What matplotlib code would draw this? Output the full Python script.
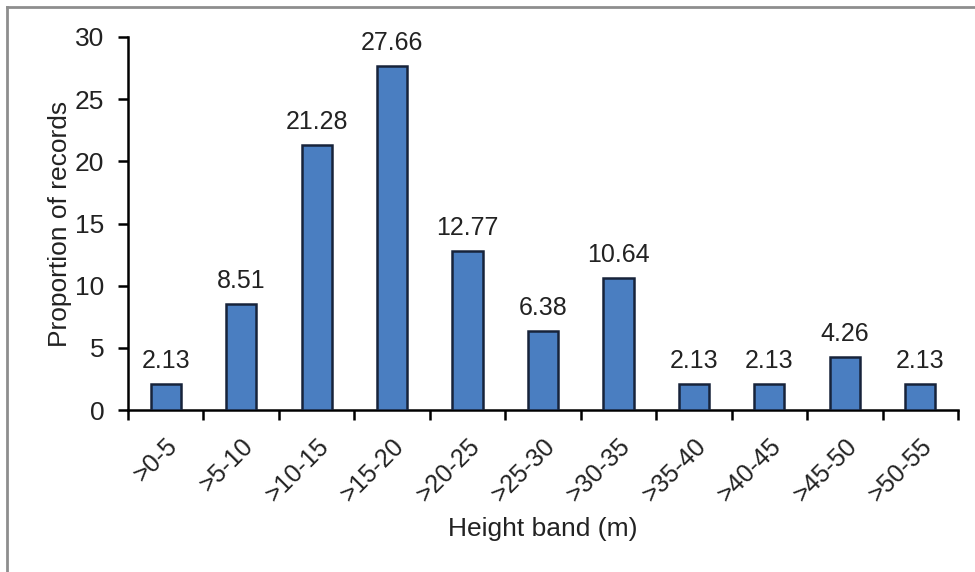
import matplotlib.pyplot as plt
from matplotlib.lines import Line2D

plt.rcParams['font.family'] = ['Liberation Sans', 'DejaVu Sans']

bands = ['>0-5', '>5-10', '>10-15', '>15-20', '>20-25', '>25-30',
         '>30-35', '>35-40', '>40-45', '>45-50', '>50-55']
proportion = [2.13, 8.51, 21.28, 27.66, 12.77, 6.38, 10.64, 2.13, 2.13, 4.26, 2.13]

fig = plt.figure(figsize=(9.75, 5.72), dpi=100)
ax = fig.add_axes([128 / 975, 1 - 410 / 572, 830 / 975, 373 / 572])

x = list(range(len(bands)))
ax.bar(x, proportion, width=0.4, color='#4A7EC1', edgecolor='#17233A', linewidth=1.8, zorder=3)

for xi, v in zip(x, proportion):
    ax.annotate('%.2f' % v, (xi, v), xytext=(0, 11.5), textcoords='offset points',
                ha='center', va='baseline', fontsize=18, color='#222222')

ax.set_xlim(-0.5, len(bands) - 0.5)
ax.set_ylim(0, 30)
ax.set_yticks([0, 5, 10, 15, 20, 25, 30])

# ticks sit between the categories
ax.set_xticks([i - 0.5 for i in range(len(bands) + 1)])
ax.set_xticklabels([])
ax.set_xticks(x, minor=True)
ax.set_xticklabels(bands, minor=True, rotation=45, ha='right', va='top',
                   rotation_mode='anchor', fontsize=18, color='#222222')
ax.tick_params(axis='x', which='minor', length=0, pad=17)
ax.tick_params(axis='x', which='major', length=7, width=1.8, direction='out')
ax.tick_params(axis='y', length=7, width=1.8, direction='out', pad=10,
               labelsize=19, labelcolor='#222222')

for side in ['top', 'right']:
    ax.spines[side].set_visible(False)
for side in ['left', 'bottom']:
    ax.spines[side].set_linewidth(1.8)

ax.set_ylabel('Proportion of records', fontsize=19, color='#222222', labelpad=2)
ax.set_xlabel('Height band (m)', fontsize=19, color='#222222', labelpad=8)

# grey frame along top and left
fig.add_artist(Line2D([7 / 975, 7 / 975], [0, 1 - 7 / 572], transform=fig.transFigure,
                      color='#8E8E8E', linewidth=2))
fig.add_artist(Line2D([7 / 975, 1], [1 - 7 / 572, 1 - 7 / 572], transform=fig.transFigure,
                      color='#8E8E8E', linewidth=2))

fig.savefig('out.png', dpi=100)
